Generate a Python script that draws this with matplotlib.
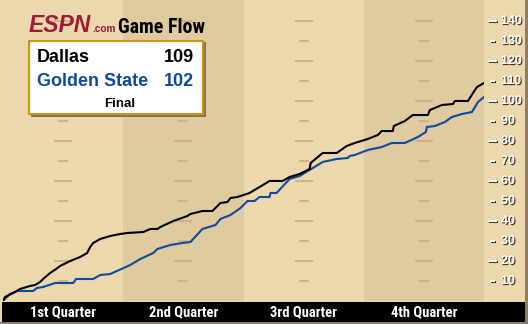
import matplotlib
matplotlib.use('Agg')
import matplotlib.pyplot as plt
import matplotlib.patches as patches
import matplotlib.patheffects as pe
import matplotlib.transforms as mtransforms
from matplotlib import font_manager

# running score vs game clock (minutes)
dal_min = [0, 0.2, 1.2, 1.7, 2.7, 3.2, 3.7, 4.0, 4.7, 5.3, 5.7, 6.7, 7.7, 8.4, 8.7, 9.0,
           9.7, 10.7, 11.7, 12.4, 14.0, 14.7, 15.4, 15.7, 17.0, 18.4, 18.7, 19.9, 20.9,
           21.7, 22.4, 22.7, 23.4, 24.6, 25.6, 26.6, 27.9, 28.6, 29.6, 30.6, 30.7, 31.9,
           33.3, 34.3, 35.1, 36.4, 37.4, 37.8, 38.9, 39.0, 40.1, 40.9, 42.4, 42.6, 43.8,
           44.9, 45.1, 46.4, 46.9, 47.3, 48.0]
dal_pts = [0, 2, 4.5, 6, 7.5, 8, 9.5, 11, 14, 16, 17.5, 20, 22, 24, 27, 29,
           31, 32.5, 33.5, 34, 34.5, 36, 36, 37, 40, 42.5, 43.5, 45, 45,
           49, 49.5, 51.5, 52, 54, 57, 60, 60, 62, 63.5, 66, 69, 74,
           74, 77.5, 79, 81, 83, 85, 85, 87.5, 90, 93, 93, 95.5, 98,
           98.5, 100, 100, 104, 107, 109]

gsw_min = [0, 0.2, 0.7, 1.4, 3.0, 3.4, 4.0, 5.2, 7.0, 7.3, 9.0, 9.7, 10.7, 12.7, 13.7,
           15.0, 15.4, 16.7, 17.9, 18.7, 19.9, 21.2, 21.7, 22.7, 23.7, 24.4, 25.1, 25.6,
           26.6, 26.7, 27.3, 28.6, 29.6, 30.6, 31.9, 33.3, 34.4, 34.6, 35.1, 36.4, 37.8,
           38.8, 40.1, 41.4, 42.2, 42.3, 43.1, 44.1, 44.8, 45.8, 46.8, 47.4, 48.0]
gsw_pts = [0, 1, 3.5, 5, 5, 6.5, 7, 9, 9, 11, 11, 13, 13.5, 18, 21,
           24, 26, 28, 29, 29.5, 36, 38, 41, 43, 46.5, 50, 50, 52,
           52, 54, 54, 61, 62.5, 65.5, 69.5, 71, 71.5, 72.5, 73, 75.5, 77,
           79, 79, 82, 84.5, 87, 87.5, 89.5, 92, 93.5, 94.5, 99.5, 102]

teams = ['Dallas', 'Golden State']
finals = [109, 102]
status = 'Final'
quarters = ['1st Quarter', '2nd Quarter', '3rd Quarter', '4th Quarter']
quarter_mid = [6, 18, 30, 42]
yticks = list(range(10, 150, 10))

light = '#EDD8AE'
dark = '#E0CA9F'
dash_c = '#CDB38A'
blue = '#0D4AA0'
orange = '#D4900F'
edge = '#8C7F66'


def pick(names, default):
    for n in names:
        try:
            font_manager.findfont(n, fallback_to_default=False)
            return n
        except ValueError:
            pass
    return default


sans = pick(['Liberation Sans', 'Arial'], 'DejaVu Sans')
narrow = pick(['Liberation Sans Narrow', 'DejaVu Sans Condensed', 'Roboto Condensed'], None)

fig = plt.figure(figsize=(5.28, 3.24), dpi=100)
fig.patch.set_facecolor(light)

# main plot area (pixels 3..484 across, 0..301 down)
ax = fig.add_axes([3 / 528, 23 / 324, 481 / 528, 301 / 324])
ax.set_xlim(0, 48)
ax.set_ylim(0, 150.5)
ax.axis('off')
for q in range(4):
    ax.axvspan(q * 12, (q + 1) * 12, color=light if q % 2 == 0 else dark, lw=0, zorder=0)
for xm in quarter_mid:
    for v in yticks:
        w = 0.9 if v % 20 == 0 else 0.5
        ax.hlines(v, xm - w, xm + w, color=dash_c, lw=1.5, zorder=1)

ax.plot(gsw_min, gsw_pts, color=blue, lw=1.5, zorder=3, solid_joinstyle='miter')
ax.plot(dal_min, dal_pts, color='black', lw=1.5, zorder=4, solid_joinstyle='miter')

# overlay in pixel coordinates
ov = fig.add_axes([0, 0, 1, 1], zorder=5)
ov.set_xlim(0, 528)
ov.set_ylim(324, 0)
ov.axis('off')
ov.patch.set_alpha(0)

ov.add_patch(patches.Rectangle((2, 302), 523, 20, color='black', lw=0))
ov.add_patch(patches.Rectangle((525, 0), 3, 324, color=edge, lw=0))
ov.add_patch(patches.Rectangle((0, 322), 528, 2, color=edge, lw=0))

shadow = [pe.withSimplePatchShadow(offset=(0.8, -0.8), shadow_rgbFace='#3f3322', alpha=1.0)]
line_shadow = [pe.SimpleLineShadow(offset=(0.8, -0.8), shadow_color='#3f3322', alpha=1.0), pe.Normal()]

ytrans = mtransforms.blended_transform_factory(ov.transData, ax.transData)
for v in yticks:
    x0, x1 = (488, 497) if v % 20 == 0 else (490, 494.5)
    ov.plot([x0, x1], [v, v], color='white', lw=1.5, transform=ytrans,
            path_effects=line_shadow, solid_capstyle='butt')
    ov.text(501, v, str(v), transform=ytrans, color='white', fontsize=9,
            fontweight='bold', family=sans, va='center', ha='left', path_effects=shadow)

xtrans = mtransforms.blended_transform_factory(ax.transData, ov.transData)
qfam = narrow if narrow else sans
qsize = 10.5 if narrow else 8.5
for xm, lab in zip(quarter_mid, quarters):
    ov.text(xm, 312, lab, transform=xtrans, color='white', fontsize=qsize,
            fontweight='bold', family=qfam, ha='center', va='center')

# title
ov.text(29, 32, 'ESPN', color='#9E1B32', fontsize=16.5, fontweight='bold',
        style='italic', family=sans, ha='left', va='baseline')
ov.text(92.5, 32, '.com', color='#9E1B32', fontsize=7.3, fontweight='bold',
        family=sans, ha='left', va='baseline')
ov.text(117.5, 33, 'Game Flow', color='black', fontsize=14.3 if narrow else 11.5,
        fontweight='bold', family=qfam, ha='left', va='baseline')

# score box
ov.add_patch(patches.Rectangle((31, 42), 175, 75, color='#857556', lw=0))
ov.add_patch(patches.Rectangle((29, 41), 174, 73, facecolor='white', edgecolor=orange, lw=1.5))
colors = ['black', blue]
for i, (t, s) in enumerate(zip(teams, finals)):
    yb = 62 + 24 * i
    ov.text(37, yb, t, color=colors[i], fontsize=13, fontweight='bold', family=sans,
            ha='left', va='baseline')
    ov.text(194, yb, str(s), color=colors[i], fontsize=13, fontweight='bold', family=sans,
            ha='right', va='baseline')
ov.text(120, 107, status, color='black', fontsize=9.5, fontweight='bold', family=sans,
        ha='center', va='baseline')

fig.savefig('out.png', dpi=100, facecolor=fig.get_facecolor())
